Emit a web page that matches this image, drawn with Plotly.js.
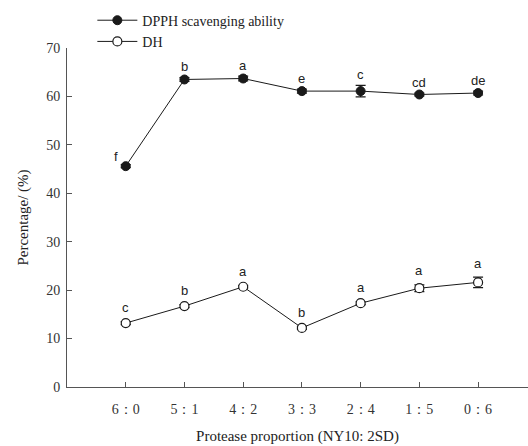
<!DOCTYPE html>
<html>
<head>
<meta charset="utf-8">
<script src="https://cdn.plot.ly/plotly-3.0.1.min.js"></script>
<style>html,body{margin:0;padding:0;background:#fff;}#chart{width:528px;height:446px;}</style>
</head>
<body>
<div id="chart"></div>
<script>
const categories = ["6：0", "5：1", "4：2", "3：3", "2：4", "1：5", "0：6"];
const dpphValues = [45.6, 63.5, 63.7, 61.1, 61.1, 60.4, 60.7];
const dpphErrors = [0.3, 0.4, 0.5, 0.4, 1.2, 0.3, 0.4];
const dpphLetters = ["f", "b", "a", "e", "c", "cd", "de"];
const dhValues = [13.2, 16.7, 20.7, 12.2, 17.3, 20.4, 21.6];
const dhErrors = [0.3, 0.3, 0.3, 0.3, 0.3, 0.7, 1.1];
const dhLetters = ["c", "b", "a", "b", "a", "a", "a"];

const xIdx = categories.map((_, i) => i);

const lineColor = "#1a1a1a";
const traces = [
  {
    x: xIdx, y: dpphValues, name: "DPPH scavenging ability",
    type: "scatter", mode: "lines+markers",
    line: {color: lineColor, width: 1},
    marker: {symbol: "circle", size: 9, color: lineColor, line: {color: lineColor, width: 1}},
    error_y: {type: "data", array: dpphErrors, visible: true, color: lineColor, thickness: 1.2, width: 5}
  },
  {
    x: xIdx, y: dhValues, name: "DH",
    type: "scatter", mode: "lines+markers",
    line: {color: lineColor, width: 1},
    marker: {symbol: "circle", size: 9, color: "#ffffff", line: {color: lineColor, width: 1.2}},
    error_y: {type: "data", array: dhErrors, visible: true, color: lineColor, thickness: 1.2, width: 5}
  }
];

const annotations = [];
dpphLetters.forEach((t, i) => {
  annotations.push({
    x: i, y: dpphValues[i] + dpphErrors[i], text: t, showarrow: false,
    xshift: i === 0 ? -10 : 0, yshift: i === 0 ? 8 : 11,
    font: {family: "Liberation Sans, Arial, sans-serif", size: 13, color: "#222"}
  });
});
dhLetters.forEach((t, i) => {
  annotations.push({
    x: i, y: dhValues[i] + dhErrors[i], text: t, showarrow: false,
    yshift: 14,
    font: {family: "Liberation Sans, Arial, sans-serif", size: 13, color: "#222"}
  });
});

const serif = "Liberation Serif, Times New Roman, serif";
const layout = {
  width: 528, height: 446,
  margin: {l: 67, r: 0, t: 48, b: 58.5},
  paper_bgcolor: "#fff", plot_bgcolor: "#fff",
  showlegend: true,
  legend: {
    x: 0.055, y: 1.128, xanchor: "left", yanchor: "top",
    font: {family: serif, size: 14, color: "#222"},
    bgcolor: "rgba(0,0,0,0)", tracegroupgap: 0, itemwidth: 40
  },
  xaxis: {
    range: [-1, 6.85],
    tickmode: "array", tickvals: xIdx, ticktext: categories,
    ticks: "inside", ticklen: 5, tickcolor: "#555", tickwidth: 1,
    ticklabelstandoff: 9,
    showline: true, linecolor: "#555", linewidth: 1,
    showgrid: false, zeroline: false,
    tickfont: {family: serif, size: 14, color: "#333"},
    title: {text: "Protease proportion (NY10: 2SD)", font: {family: serif, size: 15, color: "#222"}, standoff: 14}
  },
  yaxis: {
    range: [0, 70], dtick: 10,
    ticks: "inside", ticklen: 5, tickcolor: "#555", tickwidth: 1,
    ticklabelstandoff: 3,
    showline: true, linecolor: "#555", linewidth: 1,
    showgrid: false, zeroline: false,
    tickfont: {family: serif, size: 14, color: "#333"},
    title: {text: "Percentage/ (%)", font: {family: serif, size: 15, color: "#222"}, standoff: 13}
  },
  annotations: annotations
};

Plotly.newPlot("chart", traces, layout, {displayModeBar: false, staticPlot: true});
</script>
</body>
</html>
